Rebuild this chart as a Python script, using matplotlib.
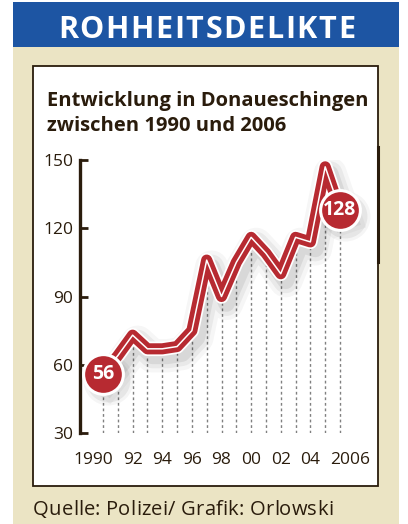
import matplotlib
matplotlib.use("Agg")
import matplotlib.pyplot as plt
from matplotlib.patches import Rectangle
from matplotlib.lines import Line2D
from matplotlib.transforms import offset_copy, blended_transform_factory

# data
years = [1990, 1991, 1992, 1993, 1994, 1995, 1996, 1997, 1998,
         1999, 2000, 2001, 2002, 2003, 2004, 2005, 2006]
cases = [56, 64, 73, 67, 67, 68, 75, 106, 90,
         105, 116, 109, 100, 116, 114, 147, 128]
yticks = [30, 60, 90, 120, 150]
xtick_years = [1990, 1992, 1994, 1996, 1998, 2000, 2002, 2004, 2006]
xtick_labels = ["1990", "92", "94", "96", "98", "00", "02", "04", "2006"]

header = "ROHHEITSDELIKTE"
title_lines = ["Entwicklung in Donaueschingen", "zwischen 1990 und 2006"]
source = "Quelle: Polizei/ Grafik: Orlowski"

BLUE = "#1d55a3"
BEIGE = "#ebe4c4"
BROWN = "#2a1c0c"
RED = "#b72a31"
FONT = "Open Sans"

W, H = 408, 524
fig = plt.figure(figsize=(W / 100, H / 100), dpi=100)
fig.patch.set_facecolor("white")
renderer = fig.canvas.get_renderer()


def fx(px):
    return px / W


def fy(py):
    return 1 - py / H


def box(x0, y0, x1, y1, **kw):
    fig.patches.append(Rectangle((fx(x0), fy(y1)), fx(x1 - x0), fy(y0) - fy(y1),
                                 transform=fig.transFigure, zorder=0, **kw))


def text_w(s, **kw):
    t = fig.text(0, 0, s, **kw)
    w = t.get_window_extent(renderer).width
    t.remove()
    return w


def spaced_text(x0, x1, y, s, **kw):
    # spread the letters so the string runs from pixel x0 to x1
    full = text_w(s, **kw)
    gap = (x1 - x0 - full) / (len(s) - 1)
    for i, ch in enumerate(s):
        pos = x0 + (text_w(s[:i], **kw) if i else 0) + i * gap
        fig.text(fx(pos), fy(y), ch, ha="left", va="baseline", **kw)


box(13, 47, 399, 524, facecolor=BEIGE, edgecolor="none")
box(13, 2, 399, 47, facecolor=BLUE, edgecolor="none")
box(33, 66, 378, 486, facecolor="white", edgecolor=BROWN, linewidth=1.3)
fig.lines.append(Line2D([fx(378), fx(378)], [fy(147), fy(262)], transform=fig.transFigure,
                        color=BROWN, linewidth=2.2, zorder=1))

spaced_text(58, 355, 38, header, color="white", fontsize=22, fontweight="bold", family=FONT)
fig.text(fx(47), fy(106), title_lines[0], color=BROWN, fontsize=14.5,
         fontweight="bold", family=FONT, ha="left", va="baseline")
fig.text(fx(47), fy(131), title_lines[1], color=BROWN, fontsize=14.5,
         fontweight="bold", family=FONT, ha="left", va="baseline")
spaced_text(33, 333, 515, source, color=BROWN, fontsize=14.5, family=FONT)

# axes: 1990 at px 103, 2006 at px 340
ppy = (340 - 103) / 16
ax = fig.add_axes([fx(80), fy(433), fx(378 - 80), fy(160) - fy(433)])
ax.set_zorder(2)
ax.set_xlim(1990 - 23 / ppy, 2006 + 38 / ppy)
ax.set_ylim(30, 150)
ax.patch.set_alpha(0)
for s in ["top", "right", "bottom"]:
    ax.spines[s].set_visible(False)
ax.spines["left"].set_color(BROWN)
ax.spines["left"].set_linewidth(2.4)
ax.set_yticks(yticks)
ax.tick_params(axis="y", direction="in", length=6, width=2, color=BROWN,
               labelsize=12.5, labelcolor=BROWN, pad=5)
for lab in ax.get_yticklabels():
    lab.set_family(FONT)
ax.set_xticks([])

# dotted drop lines
ax.vlines(years, 30, cases, colors="#808080", linestyles=(0, (2, 2)), linewidth=1, zorder=1)

# soft shadow
for lw, a in [(24, 0.035), (18, 0.05), (12, 0.07)]:
    ax.plot(years, cases, color="black", lw=lw, alpha=a, solid_joinstyle="round",
            transform=offset_copy(ax.transData, fig, x=5, y=-7, units="dots"), zorder=2)

ax.plot(years, cases, color="white", lw=10.5, solid_joinstyle="round", solid_capstyle="round", zorder=3)
ax.plot(years, cases, color=RED, lw=8, solid_joinstyle="round", zorder=4)
ax.plot(years, cases, color="white", lw=1.1, solid_joinstyle="round", zorder=5)

# end point bubbles
ends = [(years[0], cases[0]), (years[-1], cases[-1])]
for x, y in ends:
    for s, a in [(1300, 0.04), (1000, 0.06)]:
        ax.scatter([x], [y], s=s, color="black", alpha=a, zorder=5, linewidth=0,
                   transform=offset_copy(ax.transData, fig, x=5, y=-6, units="dots"), clip_on=False)
    ax.scatter([x], [y], s=820, color=RED, edgecolor="white", linewidth=2.2, zorder=6, clip_on=False)
    ax.text(x, y, str(y), color="white", fontsize=14, fontweight="bold", family=FONT,
            ha="center", va="center", zorder=7)

# x labels
tr = blended_transform_factory(ax.transData, fig.transFigure)
shift = {1990: -10 / ppy, 2006: 10 / ppy}
for yr, lab in zip(xtick_years, xtick_labels):
    ax.text(yr + shift.get(yr, 0), fy(464), lab, transform=tr, color=BROWN,
            fontsize=12.5, family=FONT, ha="center", va="baseline")

fig.savefig("out.png", dpi=100)
